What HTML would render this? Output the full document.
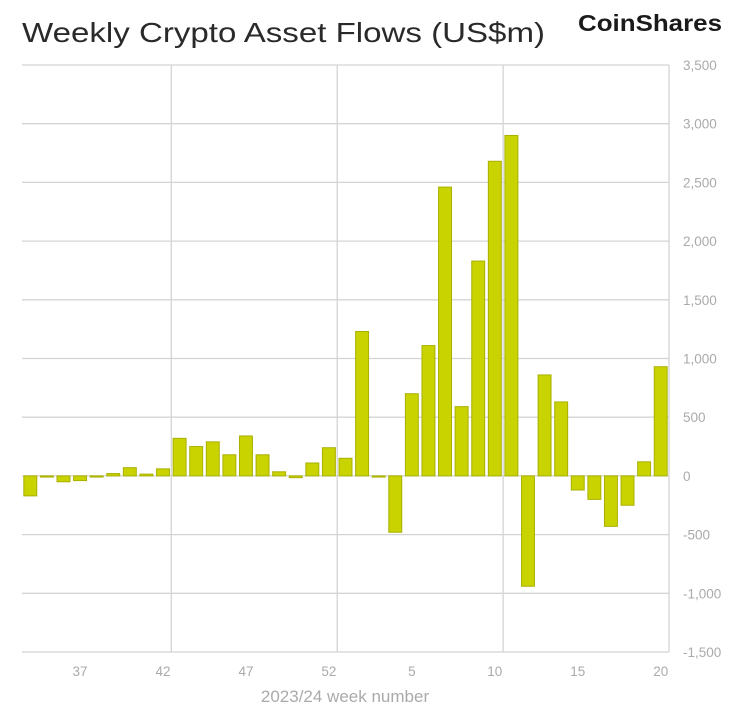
<!DOCTYPE html>
<html><head><meta charset="utf-8"><style>
body{margin:0;background:#fff;width:736px;height:709px;overflow:hidden;font-family:"Liberation Sans",sans-serif}
</style></head><body>
<svg id="chart" width="736" height="709" xmlns="http://www.w3.org/2000/svg">
<text x="22" y="42" font-size="28" fill="#2a2a2a" textLength="523" lengthAdjust="spacingAndGlyphs">Weekly Crypto Asset Flows (US$m)</text>
<text x="578" y="31" font-size="23" font-weight="bold" fill="#1a1a1a" textLength="144" lengthAdjust="spacingAndGlyphs">CoinShares</text>
<text x="345" y="702" font-size="17" fill="#aaa" text-anchor="middle">2023/24 week number</text>
<g id="grid"></g><g id="bars"></g><g id="labels"></g>
</svg>
<script>
const weeks = [34,35,36,37,38,39,40,41,42,43,44,45,46,47,48,49,50,51,52,1,2,3,4,5,6,7,8,9,10,11,12,13,14,15,16,17,18,19,20];
const flows = [-170,-10,-50,-40,-10,20,70,15,60,320,250,290,180,340,180,35,-15,110,240,150,1230,-10,-480,700,1110,2460,590,1830,2680,2900,-940,860,630,-120,-200,-430,-250,120,930];
const yTicks = [3500,3000,2500,2000,1500,1000,500,0,-500,-1000,-1500];
const xTickWeeks = [37,42,47,52,5,10,15,20];
const NS='http://www.w3.org/2000/svg';
const pLeft=22, pRight=669, pTop=65, pBottom=652, yMax=3500, yMin=-1500;
const slot=(pRight-pLeft)/weeks.length;
const yS=v=>pTop+(yMax-v)/(yMax-yMin)*(pBottom-pTop);
const xc=i=>pLeft+(i+0.5)*slot;
function mk(tag,attrs,parent){const e=document.createElementNS(NS,tag);for(const k in attrs)e.setAttribute(k,attrs[k]);parent.appendChild(e);return e;}
const grid=document.getElementById('grid'),bars=document.getElementById('bars'),labels=document.getElementById('labels');
yTicks.forEach(t=>{
  const l=mk('line',{x1:pLeft,x2:pRight,y1:yS(t),y2:yS(t),stroke:'#d4d4d4','stroke-width':1.3},grid);
  
  
  const tx=mk('text',{x:683,y:yS(t)+5,'font-size':13.5,fill:'#aaa'},labels);
  tx.textContent=t.toLocaleString('en-US');
  
  
});
[9,19,29,39].forEach(i=>{
  const xv=pLeft+i*slot;
  const l=mk('line',{x1:xv,x2:xv,y1:pTop,y2:pBottom,stroke:'#d4d4d4','stroke-width':1.3},grid);
  
  
});
const bw=slot*0.78;
flows.forEach((v,i)=>{
  const y0=yS(0),yv=yS(v);
  const r=mk('rect',{x:xc(i)-bw/2,y:Math.min(y0,yv),width:bw,height:Math.max(1,Math.abs(yv-y0)),fill:'#c9d300',stroke:'#a9b000','stroke-width':1},bars);
  
  
});
xTickWeeks.forEach(w=>{
  const i=weeks.indexOf(w);
  const tx=mk('text',{x:xc(i),y:676,'font-size':13.5,fill:'#aaa','text-anchor':'middle'},labels);
  tx.textContent=w;
  
  
});
</script>
</body></html>
